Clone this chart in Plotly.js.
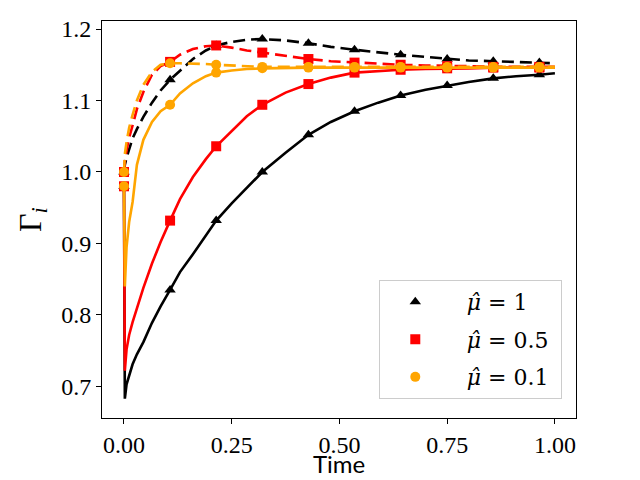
<!DOCTYPE html>
<html>
<head>
<meta charset="utf-8">
<script src="https://cdn.plot.ly/plotly-3.0.1.min.js"></script>
<style>
  html, body { margin: 0; padding: 0; background: #fff; }
  #chart { width: 640px; height: 480px; }
</style>
</head>
<body>
<div id="chart"></div>
<script>
// time grid shared by all curves
var time = [0, 0.002, 0.006, 0.012, 0.02, 0.03, 0.045, 0.065, 0.085, 0.107,
  0.13, 0.16, 0.19, 0.214, 0.25, 0.285, 0.321, 0.375, 0.428, 0.48,
  0.535, 0.59, 0.642, 0.7, 0.75, 0.8, 0.857, 0.91, 0.964, 1.0];

// indices of time where markers are drawn
var markIdx = [0, 9, 13, 16, 18, 20, 22, 24, 26, 28];

// mu = 1
var mu1Solid = [0.98, 0.683, 0.703, 0.715, 0.731, 0.745, 0.762, 0.789, 0.812, 0.835,
  0.860, 0.885, 0.912, 0.932, 0.956, 0.978, 1.000, 1.027, 1.052, 1.070,
  1.085, 1.097, 1.107, 1.115, 1.121, 1.126, 1.131, 1.134, 1.136, 1.138];
var mu1Dash = [1.0, 1.010, 1.020, 1.033, 1.047, 1.060, 1.077, 1.097, 1.114, 1.129,
  1.142, 1.158, 1.170, 1.177, 1.182, 1.185, 1.186, 1.184, 1.180, 1.175,
  1.171, 1.167, 1.164, 1.161, 1.158, 1.156, 1.155, 1.154, 1.153, 1.152];

// mu = 0.5
var mu05Solid = [0.98, 0.722, 0.752, 0.772, 0.790, 0.810, 0.838, 0.872, 0.902, 0.932,
  0.962, 0.993, 1.018, 1.036, 1.058, 1.078, 1.094, 1.111, 1.123, 1.132,
  1.139, 1.141, 1.143, 1.144, 1.145, 1.145, 1.146, 1.146, 1.146, 1.146];
var mu05Dash = [1.0, 1.015, 1.030, 1.048, 1.065, 1.088, 1.112, 1.136, 1.148, 1.154,
  1.164, 1.172, 1.176, 1.177, 1.174, 1.170, 1.167, 1.162, 1.158, 1.155,
  1.153, 1.151, 1.150, 1.149, 1.148, 1.148, 1.147, 1.147, 1.147, 1.147];

// mu = 0.1
var mu01Solid = [0.98, 0.840, 0.895, 0.930, 0.958, 1.010, 1.045, 1.070, 1.085, 1.094,
  1.110, 1.124, 1.134, 1.139, 1.142, 1.144, 1.145, 1.146, 1.146, 1.146,
  1.146, 1.146, 1.146, 1.146, 1.146, 1.146, 1.146, 1.146, 1.146, 1.146];
var mu01Dash = [1.0, 1.025, 1.042, 1.062, 1.080, 1.100, 1.122, 1.140, 1.150, 1.152,
  1.152, 1.152, 1.151, 1.150, 1.149, 1.148, 1.147, 1.147, 1.147, 1.147,
  1.147, 1.147, 1.147, 1.147, 1.147, 1.147, 1.147, 1.147, 1.147, 1.147];

var seriesNames = ["<i>μ̂</i> = 1", "<i>μ̂</i> = 0.5", "<i>μ̂</i> = 0.1"];
var seriesColors = ["#000000", "#ff0000", "#ffa500"];
var seriesSymbols = ["triangle-up", "square", "circle"];
var seriesSolid = [mu1Solid, mu05Solid, mu01Solid];
var seriesDash = [mu1Dash, mu05Dash, mu01Dash];

function pick(arr) {
  return markIdx.map(function (i) { return arr[i]; });
}

var data = [];
for (var s = 0; s < 3; s++) {
  var col = seriesColors[s];
  // solid curve
  data.push({
    x: time, y: seriesSolid[s], type: "scatter", mode: "lines",
    line: { color: col, width: 2.6 }, showlegend: false, hoverinfo: "skip"
  });
  // dashed curve
  data.push({
    x: time, y: seriesDash[s], type: "scatter", mode: "lines",
    line: { color: col, width: 2.6, dash: "12px,6px" }, showlegend: false, hoverinfo: "skip"
  });
  // markers on both curves; padding spaces push the legend text right like the original
  data.push({
    x: pick(time), y: pick(seriesSolid[s]), type: "scatter", mode: "markers",
    marker: { color: col, symbol: seriesSymbols[s], size: 10 },
    name: "\u2002\u2005" + seriesNames[s] + "\u00a0", legendgroup: "g" + s, showlegend: true
  });
  data.push({
    x: pick(time), y: pick(seriesDash[s]), type: "scatter", mode: "markers",
    marker: { color: col, symbol: seriesSymbols[s], size: 10 },
    legendgroup: "g" + s, showlegend: false
  });
}

var tickFont = { family: "Liberation Serif, DejaVu Serif, serif", size: 24, color: "#000" };

var layout = {
  width: 640,
  height: 480,
  margin: { l: 102, r: 64, t: 21, b: 62 },
  paper_bgcolor: "#fff",
  plot_bgcolor: "#fff",
  xaxis: {
    range: [-0.051, 1.049],
    tick0: 0, dtick: 0.25, tickformat: ".2f",
    ticks: "outside", ticklen: 5, tickcolor: "#000",
    showgrid: false, zeroline: false,
    showline: true, linecolor: "#000", linewidth: 1, mirror: true,
    tickfont: tickFont
  },
  yaxis: {
    range: [0.6559, 1.2112],
    tick0: 0.7, dtick: 0.1, tickformat: ".1f",
    ticks: "outside", ticklen: 5, tickcolor: "#000",
    showgrid: false, zeroline: false,
    showline: true, linecolor: "#000", linewidth: 1, mirror: true,
    tickfont: tickFont,
    title: { text: "Γ<sub><i>i</i></sub>", font: { family: "Liberation Serif, DejaVu Serif, serif", size: 32, color: "#000" }, standoff: 10 }
  },
  // x axis title sits tight under the tick labels, as in the original
  annotations: [{
    text: "Time", xref: "paper", yref: "paper", x: 0.5, y: 0,
    xanchor: "center", yanchor: "top", yshift: -29, showarrow: false,
    font: { family: "Lato, Open Sans, sans-serif", size: 24, color: "#000" }
  }],
  showlegend: true,
  legend: {
    x: 0.585, y: 0.348, xanchor: "left", yanchor: "top",
    bgcolor: "rgba(255,255,255,0.8)", bordercolor: "#cccccc", borderwidth: 1,
    font: { family: "DejaVu Serif, serif", size: 22, color: "#000" },
    itemwidth: 60,
    tracegroupgap: 6
  }
};

Plotly.newPlot("chart", data, layout, { displayModeBar: false, staticPlot: true });
</script>
</body>
</html>
